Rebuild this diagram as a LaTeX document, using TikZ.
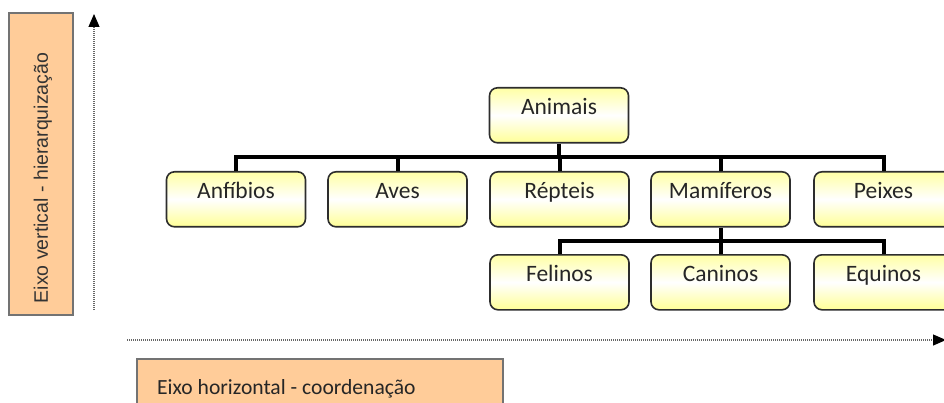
\documentclass[tikz,border=0pt]{standalone}
\usepackage{fontspec}
\setmainfont{Carlito}
\newfontfamily\arialf{Liberation Sans}
\usetikzlibrary{arrows.meta}
\definecolor{peach}{RGB}{255,204,153}
\definecolor{boxtop}{RGB}{255,255,165}
\definecolor{boxbot}{RGB}{255,255,150}
\definecolor{boxline}{RGB}{45,45,45}
\tikzset{
  taxon/.style={draw=boxline, line width=1.6pt, rounded corners=8pt,
    top color=boxtop, bottom color=boxbot, middle color=white,
    minimum width=139pt, inner xsep=0pt, inner ysep=0pt,
    text height=27pt, text depth=28pt, anchor=north,
    font=\fontsize{23.5}{27}\selectfont, text=black!85},
  tree/.style={line width=4pt, black},
  axisline/.style={line width=1.1pt, draw=black!60, dash pattern=on 1pt off 1pt,
    -{Triangle[length=13pt,width=11pt,color=black]}},
  labelbox/.style={draw=black!55, line width=1.5pt, fill=peach}
}
\begin{document}
\begin{tikzpicture}[x=1pt,y=-1pt]
\useasboundingbox (0,0) rectangle (944,403);
\clip (0,0) rectangle (944,403);
% label boxes
\path[labelbox] (9,13) rectangle (73,315);
\node[rotate=90, font=\arialf\fontsize{19.5}{22}\selectfont, text=black!80] (vlabel) at (43,178) {Eixo vertical - hierarquização};
\path[labelbox] (137,359) rectangle (503,420);
\node[anchor=base west, inner sep=0pt, font=\fontsize{21.6}{25}\selectfont, text=black!85] (hlabel) at (157,394) {Eixo horizontal - coordenação};
% axes
\coordinate (v0) at (94,310);
\coordinate (v1) at (94,14);
\coordinate (h0) at (127,340);
\coordinate (h1) at (946,340);
\draw[axisline] (v0) -- (v1);
\draw[axisline] (h0) -- (h1);
% nodes
\node[taxon] (animais) at (559,87) {Animais};
\node[taxon] (anfibios) at (236,171) {Anfíbios};
\node[taxon] (aves) at (397.5,171) {Aves};
\node[taxon] (repteis) at (559.5,171) {Répteis};
\node[taxon] (mamiferos) at (720.5,171) {Mamíferos};
\node[taxon] (peixes) at (883.5,171) {Peixes};
\node[taxon] (felinos) at (559.5,254) {Felinos};
\node[taxon] (caninos) at (720.5,254) {Caninos};
\node[taxon] (equinos) at (883.5,254) {Equinos};
% connectors
\coordinate (bar1) at (0,157);
\coordinate (bar2) at (0,241);
\draw[tree] (anfibios.north) -- (anfibios.north |- bar1) -- (peixes.north |- bar1) -- (peixes.north);
\draw[tree] (animais.south) -- (animais.south |- bar1);
\draw[tree] (aves.north) -- (aves.north |- bar1);
\draw[tree] (repteis.north) -- (repteis.north |- bar1);
\draw[tree] (mamiferos.north) -- (mamiferos.north |- bar1);
\draw[tree] (felinos.north) -- (felinos.north |- bar2) -- (equinos.north |- bar2) -- (equinos.north);
\draw[tree] (mamiferos.south) -- (mamiferos.south |- bar2);
\draw[tree] (caninos.north) -- (caninos.north |- bar2);
\end{tikzpicture}
\end{document}
